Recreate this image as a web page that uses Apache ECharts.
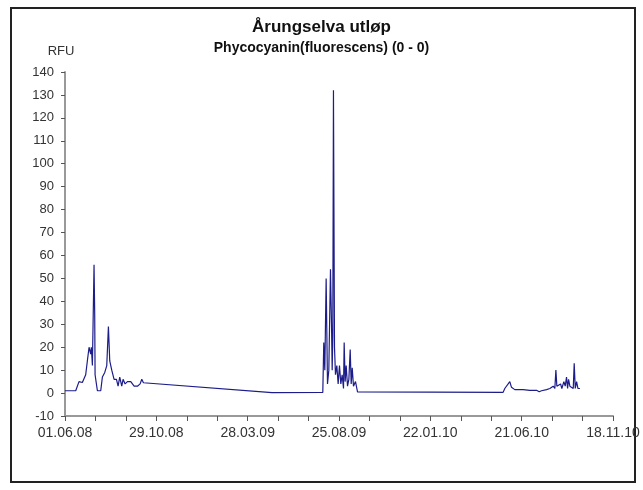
<!DOCTYPE html>
<html>
<head>
<meta charset="utf-8">
<script src="https://cdn.jsdelivr.net/npm/echarts@6/dist/echarts.min.js"></script>
<style>
  html, body { margin: 0; padding: 0; background: #fff; }
  #main { width: 643px; height: 490px; }
</style>
</head>
<body>
<div id="main"></div>
<script>
// dager etter 01.06.08
const days = [
  0, 17.6, 23, 28.5, 31.3, 34, 36.7, 39.5, 42.2, 43.3, 45, 47.7, 48.8, 49.4, 53.2, 58.7,
  61.4, 65.3, 68.6, 71.3, 73.5, 76.8, 80.6, 84.5, 87.2, 89.9, 93.2, 95.4, 98.7, 102.6,
  108, 113.5, 119, 123.4, 126.1, 128.8,
  340, 423.4, 425, 426.7, 428.9, 431.1, 433.3, 436, 437.7, 438.8, 439.8, 440.9, 442.6,
  444.2, 446.4, 448.6, 450.8, 453, 455.2, 457.4, 458.5, 460.1, 461.8, 464, 466.2, 468.4,
  470, 471.7, 473.8, 477.1, 480.4,
  719.5, 722.3, 730.5, 733.3, 738.7, 752.4, 763.4, 774.4, 778.8, 782.6, 790.9, 796.3,
  801.8, 804.5, 806.2, 807.8, 810.6, 813.9, 816, 819.3, 821.5, 823.7, 825.4, 827, 829.2,
  831.9, 834.7, 836.3, 838, 840.2, 842.4, 845.7
];
const rfu = [
  1, 1, 5, 4.6, 4, 8, 14, 20, 17, 20, 12, 56, 34, 8, 1, 1,
  7, 9, 12, 29, 14, 10, 6, 6, 3, 7, 3, 6, 4, 5,
  5, 3, 3, 4, 6, 4.5,
  0.2, 0.3, 22, 10, 50, 4, 10, 54, 30, 10, 25, 132, 20,
  8, 12, 4, 12, 4, 8, 2, 22, 5, 12, 3, 6, 19,
  4, 11, 3, 5, 0.5,
  0.3, 2, 5, 2.5, 1.5, 1.5, 1.2, 1.2, 0.6, 1, 1.5, 2,
  3, 2, 10, 3, 2.5, 4, 2, 5, 3, 7, 2, 6, 3,
  3, 2, 13, 2, 5, 2, 2
];
const dateLabels = ['01.06.08', '29.10.08', '28.03.09', '25.08.09', '22.01.10', '21.06.10', '18.11.10'];

const chart = echarts.init(document.getElementById('main'));
const font = 'Liberation Sans, Arial, sans-serif';

chart.setOption({
  animation: false,
  backgroundColor: '#fff',
  title: {
    text: 'Årungselva utløp',
    subtext: 'Phycocyanin(fluorescens) (0 - 0)',
    left: 'center',
    top: 14,
    itemGap: 5,
    textStyle: { fontFamily: font, fontSize: 17, fontWeight: 'bold', color: '#111' },
    subtextStyle: { fontFamily: font, fontSize: 14, fontWeight: 'bold', color: '#111' }
  },
  graphic: [{
    type: 'rect',
    shape: { x: 11, y: 8, width: 624, height: 474 },
    style: { fill: 'none', stroke: '#222', lineWidth: 2 },
    z: -1
  }],
  grid: { left: 65, right: 30, top: 72, bottom: 74 },
  xAxis: {
    type: 'value',
    min: 0,
    max: 900,
    interval: 50,
    axisLine: { show: true, onZero: false, lineStyle: { color: '#999', width: 2 } },
    axisTick: { show: true, length: 5, lineStyle: { color: '#555' } },
    splitLine: { show: false },
    axisLabel: {
      fontFamily: font, fontSize: 14, color: '#333', margin: 10,
      formatter: v => (v % 150 === 0 ? dateLabels[v / 150] : '')
    }
  },
  yAxis: {
    type: 'value',
    min: -10,
    max: 140,
    interval: 10,
    name: 'RFU',
    nameGap: 14,
    nameTextStyle: { fontFamily: font, fontSize: 13, color: '#333', padding: [0, 8, 0, 0] },
    axisLine: { show: true, onZero: false, lineStyle: { color: '#999', width: 2 } },
    axisTick: { show: true, length: 4, lineStyle: { color: '#555' } },
    splitLine: { show: false },
    axisLabel: { fontFamily: font, fontSize: 13, color: '#333', margin: 11 }
  },
  series: [{
    type: 'line',
    data: days.map((d, i) => [d, rfu[i]]),
    showSymbol: false,
    lineStyle: { color: '#1c1c8a', width: 1.2 },
    itemStyle: { color: '#1c1c8a' }
  }]
});
</script>
</body>
</html>
